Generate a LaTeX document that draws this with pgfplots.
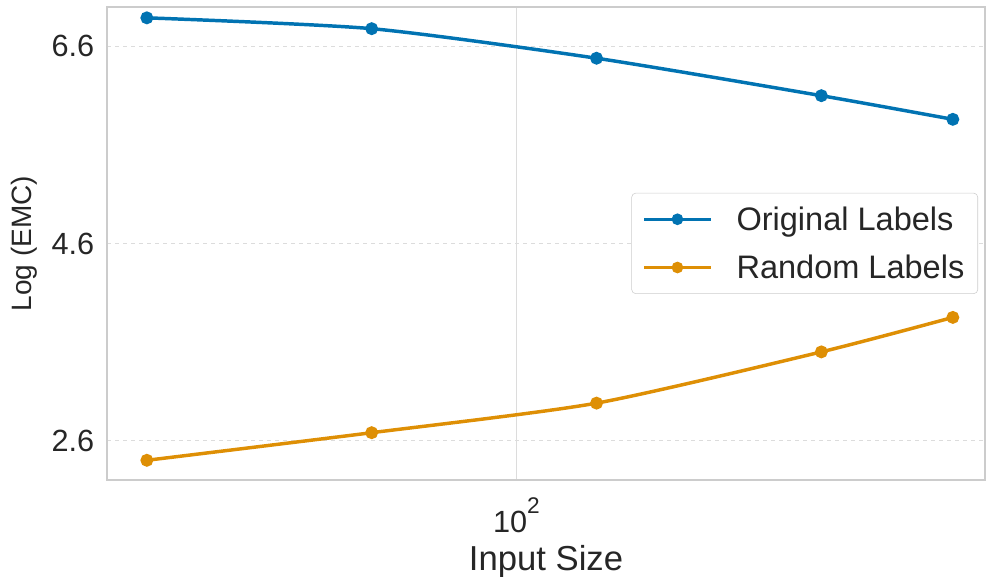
\documentclass[border=0pt]{standalone}
\usepackage{fontspec}
\setmainfont{Liberation Sans}
\usepackage{pgfplots}
\pgfplotsset{compat=1.18}
\definecolor{cbblue}{HTML}{0173B2}
\definecolor{cborange}{HTML}{DE8F05}
\definecolor{spine}{HTML}{CCCCCC}
\definecolor{gridc}{HTML}{DCDCDC}
\definecolor{txt}{HTML}{262626}
\begin{document}
\begin{tikzpicture}
\begin{axis}[
  scale only axis, width=658.5pt, height=354.75pt,
  xmode=log, xmin=28.3, xmax=424, ymin=2.2, ymax=7.0,
  xtick={100}, xticklabels={10\raisebox{0.6em}{\fontsize{17}{20}\selectfont 2}},
  ytick={2.6,4.6,6.6},
  major tick length=0pt, minor tick length=0pt,
  axis line style={spine, line width=0.94pt},
  xmajorgrids, ymajorgrids,
  x grid style={gridc, line width=0.9pt},
  y grid style={gridc, dashed, line width=0.75pt},
  tick label style={font=\fontsize{23}{27}\selectfont, text=txt},
  yticklabel style={xshift=-6pt, /pgf/number format/.cd, fixed, fixed zerofill, precision=1, assume math mode=true},
  xticklabel style={yshift=-10pt},
  xlabel={Input Size}, ylabel={Log (EMC)},
  xlabel style={font=\fontsize{26}{30}\selectfont, text=txt, yshift=-2.5pt},
  ylabel style={font=\fontsize{21}{25}\selectfont, text=txt, yshift=4pt},
  legend style={at={(0.992,0.607)}, anchor=north east, draw=spine, rounded corners=3pt, fill=white,
    font=\fontsize{24.4}{29}\selectfont, text=txt, row sep=13pt, inner xsep=8pt, inner ysep=8pt,
    /tikz/every odd column/.append style={column sep=16pt}},
  legend cell align=left,
  legend image code/.code={\draw[#1, mark repeat=2, mark phase=2, mark size=3pt] plot coordinates {(0pt,0pt) (25pt,0pt) (50pt,0pt)};},
]
\addplot[cbblue, line width=2.6pt, smooth, tension=0.4, mark=*, mark size=3.5pt] coordinates {
  (32,6.89) (64,6.78) (128,6.48) (256,6.10) (384,5.86)};
\addlegendentry{Original Labels}
\addplot[cborange, line width=2.6pt, smooth, tension=0.4, mark=*, mark size=3.5pt] coordinates {
  (32,2.40) (64,2.68) (128,2.98) (256,3.50) (384,3.85)};
\addlegendentry{Random Labels}
\end{axis}
\pgfresetboundingbox
\path[use as bounding box] ([shift={(-80.25pt,-72.75pt)}]current axis.south west) rectangle ([shift={(0.75pt,5.25pt)}]current axis.north east);
\end{tikzpicture}
\end{document}
